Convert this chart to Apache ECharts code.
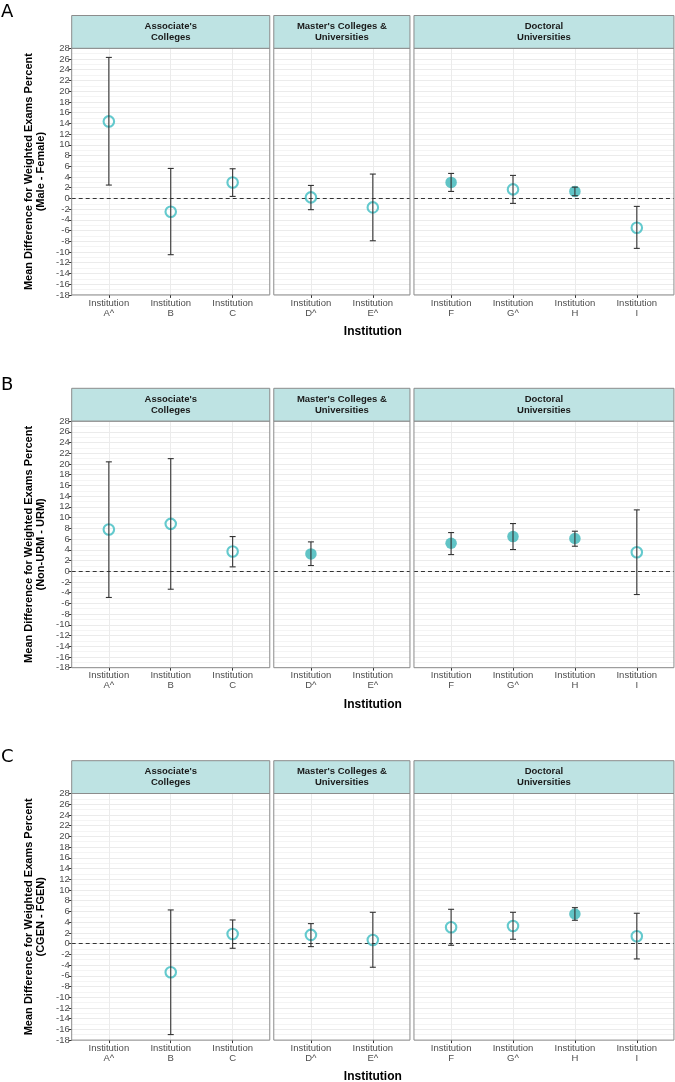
<!DOCTYPE html>
<html>
<head>
<meta charset="utf-8">
<script src="https://cdn.jsdelivr.net/npm/echarts@6/dist/echarts.min.js"></script>
<style>html,body{margin:0;padding:0;background:#fff;}#c{width:675px;height:1082px;}</style>
</head>
<body>
<div id="c"></div>
<script>
// ---------- DATA ----------
const facetNames = ["Associate's\nColleges", "Master's Colleges &\nUniversities", "Doctoral\nUniversities"];
const facetInstitutions = [["A^", "B", "C"], ["D^", "E^"], ["F", "G^", "H", "I"]];
const panelLetters = ["A", "B", "C"];
const yTitles = [
  "Mean Difference for Weighted Exams Percent\n(Male - Female)",
  "Mean Difference for Weighted Exams Percent\n(Non-URM - URM)",
  "Mean Difference for Weighted Exams Percent\n(CGEN - FGEN)"
];
const xTitle = "Institution";
const yTicks = { min: -18, max: 28, step: 2 };

// institution order: A^, B, C, D^, E^, F, G^, H, I
const sexMean = [14.36, -2.49, 2.98, 0.19, -1.68, 2.98, 1.68, 1.30, -5.47];
const sexLow  = [2.49, -10.50, 0.37, -2.10, -7.90, 1.30, -0.93, 0.50, -9.32];
const sexHigh = [26.30, 5.59, 5.53, 2.42, 4.54, 4.66, 4.29, 2.10, -1.49];
const sexSig  = [0, 0, 0, 0, 0, 1, 0, 1, 0];

const urmMean = [7.77, 8.83, 3.67, 3.23, null, 5.22, 6.46, 6.09, 3.54];
const urmLow  = [-4.90, -3.36, 0.81, 1.06, null, 3.10, 4.04, 4.66, -4.35];
const urmHigh = [20.40, 21.00, 6.46, 5.47, null, 7.21, 8.89, 7.46, 11.44];
const urmSig  = [0, 0, 0, 1, 0, 1, 1, 1, 0];

const genMean = [null, -5.34, 1.80, 1.62, 0.68, 3.05, 3.29, 5.53, 1.37];
const genLow  = [null, -16.97, -0.87, -0.56, -4.41, -0.31, 0.81, 4.35, -2.86];
const genHigh = [null, 6.28, 4.41, 3.73, 5.84, 6.40, 5.84, 6.71, 5.66];
const genSig  = [0, 0, 0, 0, 0, 0, 0, 1, 0];

const blocks = [
  { mean: sexMean, low: sexLow, high: sexHigh, sig: sexSig },
  { mean: urmMean, low: urmLow, high: urmHigh, sig: urmSig },
  { mean: genMean, low: genLow, high: genHigh, sig: genSig }
];

// ---------- LAYOUT ----------
const L = {
  plotLeft: 71.7, unit: 61.9, gap: 4, expand: 0.6,
  blockTops: [15.5, 388.3, 760.7], stripH: 32.8, plotH: 246.6,
  teal: '#3DBDC2', tealFill: '#3AB5B8', strip: '#BEE3E3', border: '#8C8C8C',
  font: '"Liberation Sans", Arial, sans-serif'
};

const chart = echarts.init(document.getElementById('c'), null, { renderer: 'canvas' });
const grids = [], xAxes = [], yAxes = [], series = [], graphics = [];

let gIdx = 0;
blocks.forEach((blk, b) => {
  let left = L.plotLeft;
  let offset = 0;
  const top = L.blockTops[b] + L.stripH;
  facetInstitutions.forEach((insts, f) => {
    const n = insts.length;
    const width = (n - 1 + 2 * L.expand) * L.unit;
    grids.push({ left: left, top: top, width: width, height: L.plotH, show: false, containLabel: false });
    const idx = insts.map((_, i) => i);
    xAxes.push({
      gridIndex: gIdx, type: 'value', min: -L.expand, max: n - 1 + L.expand,
      axisLine: { show: false, onZero: false },
      axisTick: { show: true, length: 3, customValues: idx, lineStyle: { color: '#333', width: 1 } },
      axisLabel: { customValues: idx, formatter: v => 'Institution\n' + insts[Math.round(v)], fontSize: 9.5, color: '#4D4D4D', lineHeight: 10, margin: 3, fontFamily: L.font },
      splitLine: { show: false }
    });
    yAxes.push({
      gridIndex: gIdx, type: 'value', min: yTicks.min, max: yTicks.max, interval: yTicks.step,
      axisLine: { show: false, onZero: false },
      axisTick: { show: f === 0, length: 3, lineStyle: { color: '#333' } },
      axisLabel: { show: f === 0, fontSize: 9.5, color: '#4D4D4D', margin: 2, fontFamily: L.font },
      splitLine: { show: true, lineStyle: { color: '#EBEBEB', width: 1 } },
      minorTick: { show: false, splitNumber: 2 },
      minorSplitLine: { show: true, lineStyle: { color: '#F4F4F4', width: 1 } },
      name: f === 0 ? yTitles[b] : '', nameLocation: 'middle', nameRotate: 90, nameGap: 24,
      nameTextStyle: { fontSize: 11, fontWeight: 'bold', color: '#000', lineHeight: 12.5, fontFamily: L.font }
    });

    const pts = [], bars = [];
    insts.forEach((_, i) => {
      const k = offset + i;
      if (blk.mean[k] == null) return;
      const filled = blk.sig[k] === 1;
      pts.push({
        value: [i, blk.mean[k]],
        symbolSize: filled ? 11.5 : 10.5,
        itemStyle: filled ? { color: L.tealFill, borderWidth: 0 } : { color: 'rgba(0,0,0,0)', borderColor: L.teal, borderWidth: 2.1 }
      });
      bars.push([i, blk.low[k], blk.high[k]]);
    });

    // vertical gridlines at each category (drawn through the x scale)
    series.push({
      type: 'line', xAxisIndex: gIdx, yAxisIndex: gIdx, data: [], z: 1, silent: true,
      markLine: { silent: true, z: 1, symbol: ['none', 'none'], label: { show: false }, lineStyle: { type: 'solid', color: '#EBEBEB', width: 1 }, data: idx.map(i => ({ xAxis: i })), animation: false }
    });
    series.push({
      type: 'scatter', xAxisIndex: gIdx, yAxisIndex: gIdx, data: pts, symbol: 'circle', z: 3, silent: true,
      markLine: { silent: true, z: 2, symbol: ['none', 'none'], label: { show: false }, lineStyle: { type: [4, 3], color: '#333', width: 1 }, data: [{ yAxis: 0 }], animation: false }
    });
    series.push({
      type: 'custom', xAxisIndex: gIdx, yAxisIndex: gIdx, data: bars, z: 4, silent: true,
      renderItem: (params, api) => {
        const x = api.value(0);
        const lo = api.coord([x, api.value(1)]);
        const hi = api.coord([x, api.value(2)]);
        const cw = 3;
        const st = { stroke: '#333', lineWidth: 1.1 };
        return {
          type: 'group', children: [
            { type: 'line', shape: { x1: lo[0], y1: lo[1], x2: hi[0], y2: hi[1] }, style: st },
            { type: 'line', shape: { x1: lo[0] - cw, y1: lo[1], x2: lo[0] + cw, y2: lo[1] }, style: st },
            { type: 'line', shape: { x1: hi[0] - cw, y1: hi[1], x2: hi[0] + cw, y2: hi[1] }, style: st }
          ]
        };
      }
    });

    // panel border and strip
    graphics.push({ type: 'rect', shape: { x: left, y: top, width: width, height: L.plotH }, style: { fill: null, stroke: L.border, lineWidth: 1 }, z: 9 });
    graphics.push({ type: 'rect', shape: { x: left, y: L.blockTops[b], width: width, height: L.stripH }, style: { fill: L.strip, stroke: L.border, lineWidth: 1 }, z: 10 });
    graphics.push({ type: 'text', x: left + width / 2, y: L.blockTops[b] + L.stripH / 2, style: { text: facetNames[f], fill: '#1A1A1A', font: 'bold 9.5px ' + L.font, align: 'center', verticalAlign: 'middle', lineHeight: 10.5 }, z: 11 });

    left += width + L.gap;
    offset += n;
    gIdx++;
  });
  const right = left - L.gap;
  graphics.push({ type: 'text', x: (L.plotLeft + right) / 2, y: top + L.plotH + 37, style: { text: xTitle, fill: '#000', font: 'bold 12px ' + L.font, align: 'center', verticalAlign: 'middle' }, z: 11 });
  graphics.push({ type: 'text', x: 1, y: L.blockTops[b] - 3, style: { text: panelLetters[b], fill: '#000', font: '18px "DejaVu Sans", sans-serif', align: 'left', verticalAlign: 'middle' }, z: 11 });
});

chart.setOption({
  animation: false,
  backgroundColor: '#fff',
  grid: grids, xAxis: xAxes, yAxis: yAxes, series: series,
  graphic: { elements: graphics }
});
</script>
</body>
</html>
